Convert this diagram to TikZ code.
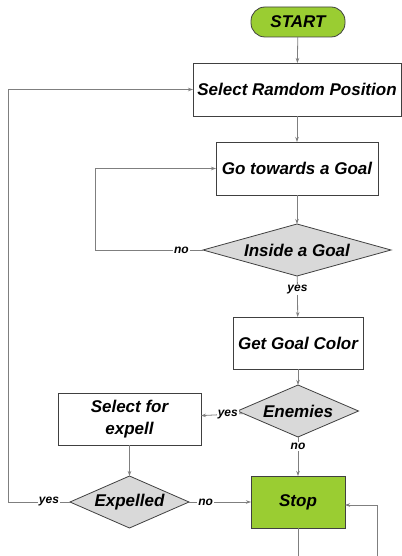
\documentclass[tikz,border=0pt]{standalone}
\usepackage{fontspec}
\setmainfont{Liberation Sans}
\usetikzlibrary{arrows.meta,positioning,shapes.geometric}
\definecolor{startgreen}{HTML}{9ACD32}
\definecolor{decgray}{HTML}{D9D9D9}
\definecolor{edgegray}{HTML}{404040}
\definecolor{linegray}{HTML}{7F7F7F}

\begin{document}
\begin{tikzpicture}[x=1pt, y=-1pt,
    base/.style={draw=edgegray, line width=0.8pt, align=center, inner sep=0pt, outer sep=0pt, font=\fontsize{17}{22}\selectfont\bfseries\itshape},
    box/.style={base, rectangle, minimum height=53pt},
    term/.style={base, fill=startgreen, rounded corners=14pt, minimum width=94pt, minimum height=30pt},
    stopbox/.style={box, fill=startgreen},
    decision/.style={base, diamond, fill=decgray, minimum height=52pt},
    lbl/.style={fill=white, inner sep=1pt, font=\fontsize{12}{12}\selectfont\bfseries\itshape},
    arrow/.style={-{Stealth[length=5pt, width=3.5pt]}, draw=linegray, line width=0.8pt},
    plain/.style={draw=linegray, line width=0.8pt}
  ]
    \useasboundingbox (0,0) rectangle (401,556);
    \node[term] (start) at (298,22) {START};
    \node[box, minimum width=208pt] (select) at (297,89.5) {Select Ramdom Position};
    \node[box, minimum width=162pt] (go) at (297,168.5) {Go towards a Goal};
    \node[decision, minimum width=188pt, aspect=3.6] (inside) at (297,250) {Inside a Goal};
    \node[box, minimum width=130pt, minimum height=52pt] (color) at (298,343) {Get Goal Color};
    \node[decision, minimum width=121pt, aspect=2.3] (enemies) at (298,411) {Enemies};
    \node[box, minimum width=143pt, minimum height=52pt] (expell) at (129.5,419) {Select for\\expell};
    \node[decision, minimum width=119pt, aspect=2.3] (expelled) at (129.5,502) {Expelled};
    \node[stopbox, minimum width=94pt, minimum height=52pt] (stop) at (298,502) {Stop};
    % free ends of the loops
    \coordinate (goloop) at (95,250);
    \coordinate (selloop) at (8,502);
    \coordinate (stopout) at (298,556);
    \coordinate (stopin) at (377,556);
    \draw[arrow] (start) -- (select);
    \draw[arrow] (select) -- (go);
    \draw[arrow] (go) -- (inside);
    \draw[arrow] (inside) -- node[lbl, pos=0.33] {yes} (color);
    \draw[arrow] (color) -- (enemies);
    \draw[arrow] (enemies) -- node[lbl, pos=0.37] {yes} (expell);
    \draw[arrow] (enemies) -- node[lbl, pos=0.25] {no} (stop);
    \draw[arrow] (expell) -- (expelled);
    \draw[arrow] (expelled) -- node[lbl, pos=0.27] {no} (stop);
    \draw[arrow] (inside) -- node[lbl, pos=0.2] {no} (goloop) |- (go);
    \draw[arrow] (expelled) -- node[lbl, pos=0.34] {yes} (selloop) |- (select);
    \draw[plain] (stop) -- (stopout);
    \draw[arrow] (stopin) |- ([yshift=-3pt]stop.east);
  \end{tikzpicture}
\end{document}
